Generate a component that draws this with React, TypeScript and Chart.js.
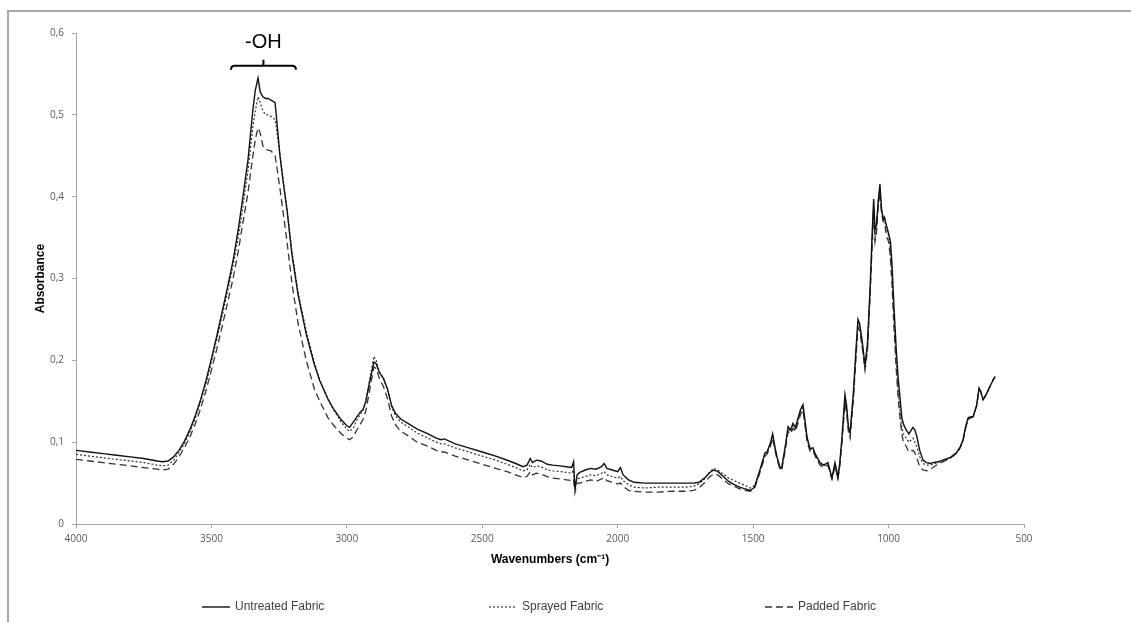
import React, { useEffect, useRef } from 'react';
import { Chart, registerables } from 'chart.js';

Chart.register(...registerables);

// ---- Data ----
const WAVENUMBERS = [
  4000, 3950, 3900, 3850, 3800, 3750, 3700, 3680, 3660, 3640,
  3620, 3600, 3580, 3560, 3540, 3520, 3500, 3480, 3460, 3440,
  3420, 3400, 3387, 3365, 3347, 3338, 3328, 3320, 3310, 3300,
  3291, 3280, 3265, 3258, 3247, 3235, 3221, 3203, 3180, 3150,
  3120, 3100, 3070, 3050, 3020, 3000, 2990, 2975, 2965, 2950,
  2940, 2930, 2915, 2900, 2892, 2880, 2865, 2850, 2835, 2820,
  2800, 2770, 2740, 2700, 2670, 2652, 2640, 2600, 2550, 2500,
  2450, 2400, 2370, 2350, 2335, 2323, 2315, 2300, 2283, 2260,
  2240, 2213, 2190, 2170, 2163, 2158, 2150, 2140, 2120, 2100,
  2080, 2060, 2050, 2040, 2020, 2000, 1990, 1980, 1960, 1940,
  1900, 1850, 1800, 1750, 1720, 1700, 1680, 1660, 1645, 1630,
  1610, 1590, 1570, 1550, 1530, 1510, 1495, 1486, 1475, 1456,
  1449, 1437, 1428, 1420, 1412, 1400, 1394, 1380, 1371, 1362,
  1353, 1344, 1334, 1325, 1316, 1308, 1301, 1290, 1279, 1270,
  1253, 1240, 1224, 1215, 1209, 1202, 1198, 1192, 1187, 1180,
  1172, 1161, 1155, 1148, 1142, 1130, 1120, 1113, 1107, 1098,
  1087, 1078, 1068, 1060, 1055, 1050, 1045, 1038, 1032, 1026,
  1020, 1015, 1008, 1000, 993, 987, 980, 972, 965, 958,
  951, 945, 935, 925, 910, 903, 895, 885, 873, 860,
  845, 836, 818, 800, 774, 750, 736, 725, 715, 706,
  695, 688, 675, 666, 660, 651, 640, 626, 615, 607,
];

const UNTREATED = [
  0.090, 0.088, 0.086, 0.084, 0.082, 0.080, 0.077, 0.076, 0.077, 0.082,
  0.090, 0.101, 0.115, 0.132, 0.152, 0.175, 0.202, 0.230, 0.260, 0.290,
  0.322, 0.362, 0.392, 0.445, 0.506, 0.530, 0.545, 0.528, 0.522, 0.520,
  0.520, 0.518, 0.515, 0.490, 0.450, 0.418, 0.384, 0.330, 0.280, 0.232,
  0.195, 0.175, 0.153, 0.141, 0.127, 0.120, 0.118, 0.125, 0.130, 0.137,
  0.140, 0.150, 0.175, 0.198, 0.196, 0.185, 0.178, 0.165, 0.145, 0.135,
  0.128, 0.122, 0.116, 0.110, 0.105, 0.103, 0.104, 0.098, 0.093, 0.088,
  0.083, 0.077, 0.073, 0.070, 0.072, 0.080, 0.075, 0.078, 0.077, 0.073,
  0.072, 0.071, 0.070, 0.069, 0.076, 0.042, 0.060, 0.063, 0.066, 0.068,
  0.067, 0.070, 0.074, 0.068, 0.066, 0.064, 0.069, 0.060, 0.054, 0.051,
  0.050, 0.050, 0.050, 0.050, 0.050, 0.051, 0.056, 0.063, 0.066, 0.064,
  0.058, 0.052, 0.048, 0.045, 0.043, 0.041, 0.045, 0.054, 0.066, 0.087,
  0.088, 0.098, 0.110, 0.095, 0.082, 0.068, 0.070, 0.098, 0.119, 0.115,
  0.123, 0.118, 0.130, 0.140, 0.146, 0.125, 0.106, 0.092, 0.093, 0.085,
  0.075, 0.072, 0.075, 0.064, 0.056, 0.068, 0.075, 0.066, 0.057, 0.075,
  0.106, 0.158, 0.145, 0.118, 0.112, 0.160, 0.215, 0.250, 0.245, 0.225,
  0.194, 0.220, 0.290, 0.360, 0.397, 0.360, 0.365, 0.395, 0.415, 0.385,
  0.372, 0.375, 0.365, 0.355, 0.345, 0.315, 0.265, 0.215, 0.180, 0.155,
  0.130, 0.122, 0.115, 0.110, 0.118, 0.115, 0.106, 0.090, 0.078, 0.075,
  0.074, 0.075, 0.076, 0.078, 0.081, 0.087, 0.094, 0.103, 0.120, 0.130,
  0.131, 0.131, 0.145, 0.166, 0.162, 0.152, 0.158, 0.168, 0.175, 0.180,
];

const SPRAYED = [
  0.085, 0.083, 0.081, 0.079, 0.077, 0.075, 0.072, 0.071, 0.072, 0.078,
  0.087, 0.098, 0.112, 0.129, 0.149, 0.172, 0.198, 0.226, 0.255, 0.285,
  0.316, 0.352, 0.380, 0.432, 0.485, 0.505, 0.522, 0.515, 0.505, 0.500,
  0.500, 0.498, 0.494, 0.478, 0.452, 0.420, 0.385, 0.333, 0.283, 0.236,
  0.197, 0.176, 0.152, 0.140, 0.124, 0.116, 0.113, 0.118, 0.126, 0.134,
  0.139, 0.150, 0.178, 0.205, 0.200, 0.186, 0.178, 0.164, 0.143, 0.132,
  0.124, 0.118, 0.111, 0.105, 0.100, 0.098, 0.098, 0.093, 0.088, 0.083,
  0.078, 0.072, 0.068, 0.065, 0.066, 0.073, 0.069, 0.071, 0.070, 0.066,
  0.065, 0.064, 0.063, 0.062, 0.066, 0.046, 0.055, 0.056, 0.058, 0.060,
  0.059, 0.062, 0.064, 0.060, 0.058, 0.056, 0.058, 0.053, 0.048, 0.045,
  0.044, 0.045, 0.045, 0.045, 0.046, 0.049, 0.055, 0.064, 0.068, 0.066,
  0.061, 0.056, 0.053, 0.050, 0.047, 0.044, 0.047, 0.055, 0.065, 0.086,
  0.087, 0.097, 0.108, 0.094, 0.081, 0.067, 0.069, 0.096, 0.116, 0.113,
  0.120, 0.115, 0.127, 0.137, 0.142, 0.122, 0.104, 0.091, 0.092, 0.084,
  0.074, 0.071, 0.074, 0.063, 0.056, 0.066, 0.073, 0.064, 0.056, 0.073,
  0.103, 0.153, 0.140, 0.115, 0.108, 0.155, 0.210, 0.245, 0.240, 0.220,
  0.190, 0.215, 0.285, 0.352, 0.390, 0.350, 0.360, 0.395, 0.410, 0.385,
  0.375, 0.372, 0.360, 0.352, 0.335, 0.300, 0.250, 0.200, 0.165, 0.140,
  0.118, 0.110, 0.105, 0.100, 0.105, 0.100, 0.094, 0.082, 0.074, 0.072,
  0.072, 0.073, 0.075, 0.077, 0.080, 0.086, 0.093, 0.102, 0.118, 0.128,
  0.130, 0.131, 0.144, 0.165, 0.162, 0.152, 0.157, 0.167, 0.176, 0.180,
];

const PADDED = [
  0.079, 0.077, 0.075, 0.073, 0.071, 0.069, 0.067, 0.066, 0.067, 0.073,
  0.082, 0.093, 0.106, 0.122, 0.141, 0.163, 0.188, 0.214, 0.242, 0.271,
  0.300, 0.335, 0.362, 0.405, 0.450, 0.470, 0.484, 0.478, 0.462, 0.458,
  0.457, 0.456, 0.450, 0.435, 0.410, 0.380, 0.345, 0.295, 0.245, 0.200,
  0.165, 0.150, 0.130, 0.121, 0.110, 0.105, 0.103, 0.107, 0.114, 0.122,
  0.128, 0.138, 0.165, 0.192, 0.190, 0.178, 0.168, 0.153, 0.132, 0.121,
  0.113, 0.107, 0.100, 0.095, 0.090, 0.088, 0.088, 0.083, 0.078, 0.073,
  0.068, 0.063, 0.059, 0.057, 0.058, 0.064, 0.060, 0.062, 0.061, 0.058,
  0.056, 0.055, 0.054, 0.053, 0.055, 0.038, 0.050, 0.050, 0.052, 0.054,
  0.052, 0.055, 0.057, 0.053, 0.051, 0.049, 0.050, 0.046, 0.041, 0.040,
  0.039, 0.039, 0.040, 0.040, 0.041, 0.044, 0.050, 0.058, 0.061, 0.060,
  0.054, 0.049, 0.046, 0.043, 0.041, 0.040, 0.044, 0.052, 0.063, 0.083,
  0.085, 0.094, 0.105, 0.091, 0.079, 0.066, 0.067, 0.093, 0.113, 0.110,
  0.117, 0.113, 0.124, 0.134, 0.139, 0.119, 0.101, 0.089, 0.090, 0.082,
  0.072, 0.069, 0.072, 0.061, 0.055, 0.064, 0.071, 0.063, 0.055, 0.071,
  0.100, 0.148, 0.136, 0.112, 0.105, 0.152, 0.205, 0.240, 0.237, 0.218,
  0.188, 0.212, 0.280, 0.345, 0.382, 0.345, 0.355, 0.390, 0.405, 0.380,
  0.370, 0.368, 0.352, 0.345, 0.325, 0.290, 0.240, 0.190, 0.155, 0.130,
  0.110, 0.100, 0.095, 0.088, 0.090, 0.087, 0.080, 0.070, 0.066, 0.065,
  0.067, 0.069, 0.073, 0.076, 0.080, 0.086, 0.093, 0.102, 0.118, 0.128,
  0.130, 0.131, 0.144, 0.165, 0.162, 0.152, 0.158, 0.168, 0.176, 0.180,
];

const SERIES_LABELS = ['Untreated Fabric', 'Sprayed Fabric', 'Padded Fabric'];
const X_TICKS = [4000, 3500, 3000, 2500, 2000, 1500, 1000, 500];
const Y_TICKS = [0, 0.1, 0.2, 0.3, 0.4, 0.5, 0.6];
const Y_TICK_LABELS = ['0', '0,1', '0,2', '0,3', '0,4', '0,5', '0,6'];
const X_TITLE = 'Wavenumbers (cm\u207B\u00B9)';
const Y_TITLE = 'Absorbance';
const OH_LABEL = '-OH';
const OH_RANGE = [3428, 3188];
const OH_BRACKET_Y = 0.56;
const OH_LABEL_Y = 0.588;

// ---- Styling / layout (not data) ----
const W = 1131;
const H = 622;
const AXIS_COLOR = '#a6a6a6';
const TICK_COLOR = '#595959';
const LEGEND_X = [202, 489, 765];
const LEGEND_Y = 607;

const annotationPlugin = {
  id: 'ohAnnotation',
  afterDatasetsDraw(chart: any) {
    const { ctx } = chart;
    const x = chart.scales.x;
    const y = chart.scales.y;
    const x1 = x.getPixelForValue(OH_RANGE[0]);
    const x2 = x.getPixelForValue(OH_RANGE[1]);
    const xc = (x1 + x2) / 2;
    const yb = y.getPixelForValue(OH_BRACKET_Y);
    ctx.save();
    ctx.setLineDash([]);
    ctx.strokeStyle = '#000';
    ctx.lineWidth = 2;
    ctx.beginPath();
    ctx.moveTo(x1, yb + 4);
    ctx.quadraticCurveTo(x1, yb, x1 + 4, yb);
    ctx.lineTo(x2 - 4, yb);
    ctx.quadraticCurveTo(x2, yb, x2, yb + 4);
    ctx.moveTo(xc, yb);
    ctx.lineTo(xc, yb - 6);
    ctx.stroke();
    ctx.fillStyle = '#000';
    ctx.font = '20px "Liberation Sans", Arial, sans-serif';
    ctx.textAlign = 'center';
    ctx.textBaseline = 'middle';
    ctx.fillText(OH_LABEL, xc, y.getPixelForValue(OH_LABEL_Y));
    ctx.restore();
  },
};

const legendPlugin = {
  id: 'excelLegend',
  afterDraw(chart: any) {
    const { ctx } = chart;
    ctx.save();
    chart.data.datasets.forEach((ds: any, i: number) => {
      const x0 = LEGEND_X[i];
      ctx.setLineDash(ds.borderDash || []);
      ctx.strokeStyle = ds.borderColor;
      ctx.lineWidth = ds.borderWidth;
      ctx.beginPath();
      ctx.moveTo(x0, LEGEND_Y);
      ctx.lineTo(x0 + 28, LEGEND_Y);
      ctx.stroke();
      ctx.setLineDash([]);
      ctx.fillStyle = '#404040';
      ctx.font = '12px "Liberation Sans", Arial, sans-serif';
      ctx.textAlign = 'left';
      ctx.textBaseline = 'middle';
      ctx.fillText(ds.label, x0 + 33, LEGEND_Y);
    });
    ctx.restore();
  },
};

function toPoints(values: number[]) {
  return WAVENUMBERS.map((wn, i) => ({ x: wn, y: values[i] }));
}

export default function App() {
  const canvasRef = useRef<HTMLCanvasElement | null>(null);

  useEffect(() => {
    if (!canvasRef.current) return;
    const styles = [
      { color: '#111111', width: 1.4, dash: [] as number[] },
      { color: '#333333', width: 1.2, dash: [2, 2] },
      { color: '#333333', width: 1.3, dash: [7, 4] },
    ];
    const series = [UNTREATED, SPRAYED, PADDED];
    const chart = new Chart(canvasRef.current, {
      type: 'line',
      data: {
        datasets: series.map((vals, i) => ({
          label: SERIES_LABELS[i],
          data: toPoints(vals),
          borderColor: styles[i].color,
          borderWidth: styles[i].width,
          borderDash: styles[i].dash,
          pointRadius: 0,
          tension: 0,
          fill: false,
        })),
      },
      options: {
        animation: false,
        responsive: false,
        devicePixelRatio: 1,
        layout: { padding: { left: 0, right: W - 1024, top: 33, bottom: 55 } },
        plugins: { legend: { display: false }, tooltip: { enabled: false } },
        scales: {
          x: {
            type: 'linear',
            reverse: true,
            min: 500,
            max: 4000,
            afterBuildTicks: (s: any) => {
              s.ticks = X_TICKS.map((v) => ({ value: v }));
            },
            afterFit: (s: any) => {
              s.height = 43;
            },
            ticks: {
              autoSkip: false,
              maxRotation: 0,
              padding: 5,
              color: TICK_COLOR,
              font: { family: '"Open Sans", sans-serif', size: 10 },
              callback: (v: any) => String(v),
            },
            grid: { drawOnChartArea: false, tickLength: 4, color: AXIS_COLOR },
            border: { display: true, color: AXIS_COLOR, width: 1 },
            title: {
              display: true,
              text: X_TITLE,
              color: '#000',
              font: { family: '"Liberation Sans", Arial, sans-serif', size: 12, weight: 'bold' },
              padding: { top: 0, bottom: 0 },
            },
          },
          y: {
            type: 'linear',
            min: 0,
            max: 0.6,
            afterBuildTicks: (s: any) => {
              s.ticks = Y_TICKS.map((v) => ({ value: v }));
            },
            afterFit: (s: any) => {
              s.width = 76;
            },
            ticks: {
              padding: 8,
              color: TICK_COLOR,
              font: { family: '"Open Sans", sans-serif', size: 10 },
              callback: (v: any) => Y_TICK_LABELS[Y_TICKS.indexOf(v)] ?? String(v),
            },
            grid: { drawOnChartArea: false, tickLength: 4, color: AXIS_COLOR },
            border: { display: true, color: AXIS_COLOR, width: 1 },
            title: {
              display: true,
              text: Y_TITLE,
              color: '#000',
              font: { family: '"Liberation Sans", Arial, sans-serif', size: 12, weight: 'bold' },
              padding: { top: 33, bottom: 0 },
            },
          },
        },
      },
      plugins: [annotationPlugin, legendPlugin],
    } as any);
    return () => chart.destroy();
  }, []);

  return (
    <div style={{ position: 'fixed', left: 0, top: 0, width: W, height: H, background: '#fff', overflow: 'hidden' }}>
      <div
        style={{
          position: 'absolute',
          left: 7,
          top: 10,
          width: W + 50,
          height: H + 50,
          borderTop: '2px solid #a8a8a8',
          borderLeft: '2px solid #a8a8a8',
        }}
      />
      <canvas ref={canvasRef} width={W} height={H} style={{ position: 'absolute', left: 0, top: 0, width: W, height: H }} />
    </div>
  );
}
